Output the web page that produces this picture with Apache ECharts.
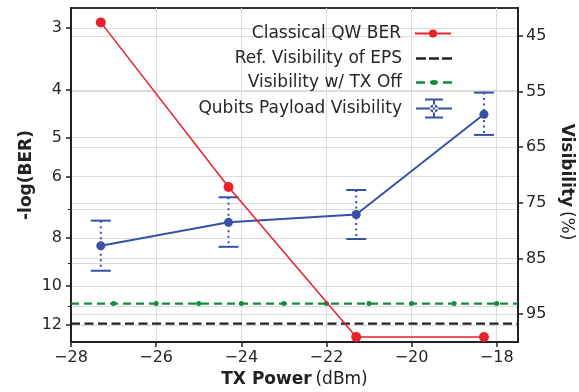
<!DOCTYPE html>
<html>
<head>
<meta charset="utf-8">
<script src="https://cdn.jsdelivr.net/npm/echarts@6/dist/echarts.min.js"></script>
<style>
  html, body { margin: 0; padding: 0; background: #fff; }
  #main { width: 579px; height: 392px; }
</style>
</head>
<body>
<div id="main"></div>
<script>
// data
const txPower = [-27.3, -24.3, -21.3, -18.3];
const berLog = [2.92, 6.3, 12.7, 12.7];           // -log(BER), left axis
const visibility = [82.7, 78.5, 77.1, 59.1];      // %, right axis
const visLow = [78.2, 74.0, 72.7, 55.2];
const visHigh = [87.2, 82.9, 81.5, 62.8];
const txOffX = [-28, -27, -26, -25, -24, -23, -22, -21, -20, -19, -18, -17.5];
const txOffVis = [93.1, 93.1, 93.1, 93.1, 93.1, 93.1, 93.1, 93.1, 93.1, 93.1, 93.1, 93.1];
const epsX = [-28, -17.5];
const epsVis = [96.7, 96.7];

const xTicks = [-28, -26, -24, -22, -20, -18];
const berTicks = [3, 4, 5, 6, 8, 10, 12];
const berMinor = [7, 9, 11];
const visTicks = [45, 55, 65, 75, 85, 95];

const RED = "#e8212b";
const BLUE = "#3651a5";
const GREEN = "#138a3e";
const BLACK = "#222222";
const FONT = "DejaVu Sans";

const minus = (v) => (v < 0 ? "\u2212" + Math.abs(v) : String(v));

const legendText = { fontSize: 17, color: "#262626", fontFamily: FONT, padding: [0, 9, 0, 0] };

const option = {
  animation: false,
  textStyle: { fontFamily: FONT },
  grid: {
    left: 71, right: 61, top: 8, bottom: 50, outerBoundsMode: "none",
    show: true, borderColor: "#333", borderWidth: 2,
  },
  legend: [
    {
      data: ["Classical QW BER"], right: 122, top: 20, align: "right",
      itemWidth: 36, itemHeight: 10, selectedMode: false, textStyle: legendText,
    },
    {
      data: [{ name: "Ref. Visibility of EPS", icon: "path://M0 0H10V2.4H0Z M13 0H23V2.4H13Z M26 0H36V2.4H26Z" }],
      right: 122, top: 45, align: "right",
      itemWidth: 36, itemHeight: 2.4, selectedMode: false, textStyle: legendText,
    },
    {
      data: [{ name: "Visibility w/ TX Off", icon: "path://M0 1.2H9V3.6H0Z M27 1.2H36V3.6H27Z M14 2.4A4 2.4 0 1 0 22 2.4A4 2.4 0 1 0 14 2.4Z" }],
      right: 122, top: 69, align: "right",
      itemWidth: 36, itemHeight: 4.8, selectedMode: false, textStyle: legendText,
    },
    {
      data: [{ name: "Qubits Payload Visibility",
        icon: "path://M9 0H27V2H9Z M9 18H27V20H9Z M0 9H36V11H0Z M17 2H19V18H17Z M14 10A4 4 0 1 0 22 10A4 4 0 1 0 14 10Z" }],
      right: 122, top: 93.5, align: "right",
      itemWidth: 36, itemHeight: 20, selectedMode: false, textStyle: legendText,
    },
  ],
  xAxis: {
    type: "value", min: -28, max: -17.5, interval: 2,
    name: "{b|TX Power} {n|(dBm)}", nameLocation: "middle", nameGap: 29,
    nameTextStyle: {
      rich: {
        b: { fontSize: 17, fontWeight: "bold", color: "#222", fontFamily: FONT },
        n: { fontSize: 17, color: "#222", fontFamily: FONT },
      },
    },
    axisLine: { show: true, lineStyle: { color: BLACK, width: 2 } },
    axisTick: { show: true, length: 5, customValues: xTicks, lineStyle: { color: BLACK, width: 1.5 } },
    axisLabel: { customValues: xTicks, formatter: minus, fontSize: 16, color: "#262626", margin: 8, fontFamily: FONT },
    splitLine: { show: true, lineStyle: { color: "#dcdcdc", width: 1 } },
  },
  yAxis: [
    {
      type: "log", logBase: 10, min: 2.73, max: 13, inverse: true, position: "left",
      name: "-log(BER)", nameLocation: "middle", nameGap: 36, nameMoveOverlap: false,
      nameTextStyle: { fontSize: 17, fontWeight: "bold", color: "#222", fontFamily: FONT },
      axisLine: { show: true, lineStyle: { color: BLACK, width: 2 } },
      axisTick: { show: true, length: 5, customValues: berTicks, lineStyle: { color: BLACK, width: 1.5 } },
      axisLabel: { customValues: berTicks, fontSize: 16, color: "#262626", margin: 9, fontFamily: FONT },
      splitLine: { show: true, lineStyle: { color: "#dcdcdc", width: 1 } },
    },
    {
      type: "value", min: 40, max: 100, inverse: true, position: "right",
      name: "{b|Visibility} {n|(%)}", nameLocation: "middle", nameGap: 40, nameRotate: -90,
      nameTextStyle: {
        padding: [0, 0, 0, 14],
        rich: {
          b: { fontSize: 17, fontWeight: "bold", color: "#222", fontFamily: FONT },
          n: { fontSize: 17, color: "#222", fontFamily: FONT },
        },
      },
      axisLine: { show: true, lineStyle: { color: BLACK, width: 2 } },
      axisTick: { show: true, length: 5, customValues: visTicks, lineStyle: { color: BLACK, width: 1.5 } },
      axisLabel: { customValues: visTicks, fontSize: 16, color: "#262626", margin: 8, fontFamily: FONT },
      splitLine: { show: true, lineStyle: { color: "#dcdcdc", width: 1 } },
    },
    {
      // minor ticks of the -log(BER) axis
      type: "log", logBase: 10, min: 2.73, max: 13, inverse: true, position: "left",
      axisLine: { show: false },
      axisTick: { show: true, length: 3, customValues: berMinor, lineStyle: { color: BLACK, width: 1 } },
      axisLabel: { show: false, customValues: berMinor },
      splitLine: { show: true, lineStyle: { color: "#dcdcdc", width: 1 } },
    },
  ],
  series: [
    {
      name: "Ref. Visibility of EPS", type: "line", yAxisIndex: 1, z: 1,
      symbol: "none", color: BLACK,
      lineStyle: { color: BLACK, width: 2.2, type: [9, 4.5] },
      data: epsX.map((x, i) => [x, epsVis[i]]),
    },
    {
      name: "Visibility w/ TX Off", type: "line", yAxisIndex: 1, z: 1,
      symbol: "circle", symbolSize: 5, color: GREEN,
      lineStyle: { color: GREEN, width: 2.2, type: [8, 5] },
      data: txOffX.map((x, i) => {
        const edge = i === 0 || i === txOffX.length - 1;
        return edge ? { value: [x, txOffVis[i]], symbol: "none" } : [x, txOffVis[i]];
      }),
    },
    {
      type: "custom", yAxisIndex: 1, z: 2, silent: true,
      encode: { x: 0, y: [1, 2] },
      data: txPower.map((x, i) => [x, visLow[i], visHigh[i]]),
      renderItem: (params, api) => {
        const x = api.value(0);
        const lo = api.coord([x, api.value(1)]);
        const hi = api.coord([x, api.value(2)]);
        const w = 10;
        return {
          type: "group",
          children: [
            { type: "line", shape: { x1: lo[0], y1: lo[1], x2: hi[0], y2: hi[1] },
              style: { stroke: BLUE, lineWidth: 2, lineDash: [2, 3.5] } },
            { type: "line", shape: { x1: lo[0] - w, y1: lo[1], x2: lo[0] + w, y2: lo[1] },
              style: { stroke: BLUE, lineWidth: 2 } },
            { type: "line", shape: { x1: hi[0] - w, y1: hi[1], x2: hi[0] + w, y2: hi[1] },
              style: { stroke: BLUE, lineWidth: 2 } },
          ],
        };
      },
    },
    {
      name: "Qubits Payload Visibility", type: "line", yAxisIndex: 1, z: 3,
      symbol: "circle", symbolSize: 9, color: BLUE,
      lineStyle: { color: BLUE, width: 2 },
      data: txPower.map((x, i) => [x, visibility[i]]),
    },
    {
      name: "Classical QW BER", type: "line", yAxisIndex: 0, z: 4,
      symbol: "circle", symbolSize: 10, color: RED,
      lineStyle: { color: RED, width: 1.5 },
      data: txPower.map((x, i) => [x, berLog[i]]),
    },
  ],
};

const myChart = echarts.init(document.getElementById("main"));
myChart.setOption(option);
</script>
</body>
</html>
